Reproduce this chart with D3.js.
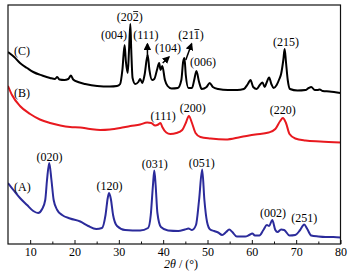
<!DOCTYPE html>
<html><head><meta charset="utf-8">
<script src="https://cdn.jsdelivr.net/npm/d3@7"></script>
<style>
html,body{margin:0;padding:0;background:#fff;}
svg{display:block;}
text{font-family:"Liberation Serif","Times New Roman",serif;font-size:12px;fill:#000;}
</style></head>
<body>
<svg id="chart" width="351" height="275"></svg>
<script>
// ---- Data (2θ in degrees, intensity in arbitrary units incl. vertical offset) ----
const curveA_twoTheta = [5.0,6.4,7.7,9.3,10.7,11.8,12.7,13.4,13.8,14.3,14.8,15.3,16.1,17.2,19.0,21.3,23.1,24.9,26.2,27.0,27.5,27.8,28.2,28.7,29.6,31.4,34.8,36.6,37.2,37.7,38.0,38.3,38.7,39.5,41.1,43.4,44.9,45.7,46.5,47.4,48.1,48.8,49.3,49.9,50.6,51.5,52.4,53.3,54.2,54.9,55.6,56.6,58.5,59.4,60.1,60.7,61.7,62.6,63.4,63.9,64.6,65.3,65.8,66.6,67.3,68.5,69.8,70.9,71.8,72.5,73.4,75.0,76.6,78.4,80.0];
const curveA_intensity = [61,53,46,39,33,31,35,44,64,81,64,44,34,29,25.5,22.5,18,15,16,29,46,51,45,29,18,14,13.5,16,29,59,73.5,59,31,17,13.5,13,14.5,15.5,14,19,44,74.5,44,22,14.5,13,11.5,9,12,14.5,12,7.5,7.5,9,10.5,8.5,8.5,14,19,18,24,14,12,14.5,14,8.5,9,14,19.5,15,8.5,7.5,7,7,6.5];

const curveB_twoTheta = [5.0,5.9,7.7,10.0,12.2,14.5,16.8,19.0,21.3,23.5,25.8,28.0,30.3,32.6,34.8,36.4,37.3,38.2,38.9,39.4,39.8,40.7,41.6,43.0,44.3,45.1,45.8,46.5,47.3,48.4,50.7,54.1,57.5,60.8,63.8,65.3,66.4,67.0,67.7,68.5,69.8,72.1,75.4,80.0];
const curveB_intensity = [158,149,138,130,124.5,121,118.5,117,116.5,115,114,114.5,116,118,119.5,121.5,121,118.5,119.5,121,117,111.5,110,111,114,121,128,121,111,107,105.5,104.5,107,109.5,111.5,115,123,126,121,110,105.5,103.5,102.5,101.5];

const curveC_twoTheta = [5.0,6.4,7.7,9.3,10.7,12.7,14.5,15.6,16.1,16.6,17.7,18.6,19.2,19.7,20.8,22.4,25.1,28.0,29.6,30.3,30.8,31.3,31.6,32.0,32.3,32.6,32.8,33.1,33.7,34.4,34.8,35.3,35.8,36.5,36.9,37.5,38.0,38.6,39.1,39.4,39.8,40.4,41.0,41.9,43.3,44.1,44.5,44.8,45.1,45.7,46.5,47.0,47.5,48.1,48.7,49.8,50.5,51.2,52.4,54.6,56.7,58.2,59.1,59.7,60.3,61.1,61.8,62.4,62.9,63.3,63.9,64.4,64.9,65.6,66.2,66.6,67.1,67.4,67.7,68.1,68.6,70.3,72.1,72.8,73.4,74.2,74.8,75.3,76.0,77.5,80.0];
const curveC_intensity = [192,187,181,176,172,168.5,166,165,167,164.5,164,165,168.5,164.5,162,160,158,157.5,158,160,174,199,182,171,194,220,194,166,160,162,165,161,169,189,174,164,165,174,181,174,178,164,158,155.5,156,164,182,186,169,156,156,164,173,162,155,157,161,157,155,154,154,155,160,164,157,155,159,161.5,157,161,166.5,160,156,159,165,170,184,195,182,164,155,153.5,154,156,157,154,154,154.5,153,152.5,151];

const xTicksMajor = [10,20,30,40,50,60,70,80];
const xTicksMinor = [15,25,35,45,55,65,75];

const seriesLabels = ["(A)","(B)","(C)"];
const seriesLabelI = [53,147,189];
// peak labels: [text, 2θ (center), intensity (baseline)]
const peakLabelText = ["(020)","(120)","(031)","(051)","(002)","(251)","(111)","(200)","(220)","(004)","(202)","(111)","(104)","(211)","(006)","(215)"];
const peakLabel2T   = [14.36,27.9,38.1,48.7,64.8,71.8,40.0,46.7,67.0,28.9,32.45,36.1,41.1,46.3,49.0,67.7];
const peakLabelI    = [83,54,76,77,27,22,124,132,130,205,223,205,192,205,178,198];
const overlineChar  = [-1,-1,-1,-1,-1,-1,-1,-1,-1,-1,3,-1,-1,3,-1,-1]; // index of char carrying a bar
// arrows: from (2θ,I) to (2θ,I)
const arrowFrom2T = [36.45,39.9,45.1];
const arrowFromI  = [188,181,184];
const arrowTo2T   = [36.45,41.3,46.4];
const arrowToI    = [200,187,200];

// ---- Chart ----
const svg = d3.select("#chart");
const x = d3.scaleLinear().domain([5,80]).range([8,340.5]);
const y = d3.scaleLinear().domain([0,239]).range([244,5]);

const line = d3.line().x(d=>x(d[0])).y(d=>y(d[1])).curve(d3.curveMonotoneX);

const series = [
  {t:curveA_twoTheta, v:curveA_intensity, color:"#2b2b9b"},
  {t:curveB_twoTheta, v:curveB_intensity, color:"#e8191f"},
  {t:curveC_twoTheta, v:curveC_intensity, color:"#000000"}
];
const plot = svg.append("g");
plot.append("clipPath").attr("id","clip").append("rect")
  .attr("x",x(5)).attr("y",y(239)).attr("width",x(80)-x(5)).attr("height",y(0)-y(239));
series.forEach(s=>{
  plot.append("path").datum(s.t.map((t,i)=>[t,s.v[i]]))
    .attr("d",line).attr("fill","none").attr("stroke",s.color)
    .attr("stroke-width",2).attr("stroke-linejoin","round").attr("clip-path","url(#clip)");
});

// frame
svg.append("rect").attr("x",x(5)).attr("y",y(239)).attr("width",x(80)-x(5)).attr("height",y(0)-y(239))
  .attr("fill","none").attr("stroke","#111").attr("stroke-width",1.2);

// axes
const axMaj = svg.append("g").attr("transform",`translate(0,${y(0)})`)
  .call(d3.axisBottom(x).tickValues(xTicksMajor).tickSize(-4).tickPadding(3.5).tickFormat(d3.format("d")));
const axMin = svg.append("g").attr("transform",`translate(0,${y(0)})`)
  .call(d3.axisBottom(x).tickValues(xTicksMinor).tickSize(-2.5).tickFormat(""));
[axMaj,axMin].forEach(a=>{a.select(".domain").remove(); a.selectAll("line").attr("stroke","#111").attr("stroke-width",1);});
axMaj.selectAll("text").attr("font-family",null).attr("font-size",null).style("font-size","12px").attr("fill","#000");

// axis title
const title = svg.append("text").attr("x",181).attr("y",268).attr("text-anchor","middle");
title.append("tspan").style("font-style","italic").text("2θ");
title.append("tspan").text(" / (°)");

// series labels
seriesLabels.forEach((s,i)=>{
  svg.append("text").attr("x",x(6.35)).attr("y",y(seriesLabelI[i])).text(s);
});

// peak labels
peakLabelText.forEach((s,i)=>{
  const t = svg.append("text").attr("x",x(peakLabel2T[i])).attr("y",y(peakLabelI[i]))
    .attr("text-anchor","middle").text(s);
  if(overlineChar[i]>=0){
    const n = t.node();
    const a = n.getStartPositionOfChar(overlineChar[i]);
    const b = n.getEndPositionOfChar(overlineChar[i]);
    svg.append("line").attr("x1",a.x+0.5).attr("x2",b.x-0.5)
      .attr("y1",y(peakLabelI[i])-9.5).attr("y2",y(peakLabelI[i])-9.5)
      .attr("stroke","#111").attr("stroke-width",0.9);
  }
});

// arrows
svg.append("defs").append("marker").attr("id","ah").attr("viewBox","0 0 10 10")
  .attr("refX",8).attr("refY",5).attr("markerWidth",5).attr("markerHeight",5).attr("orient","auto")
  .append("path").attr("d","M0,0 L10,5 L0,10 z").attr("fill","#000");
arrowFrom2T.forEach((t,i)=>{
  svg.append("line").attr("x1",x(t)).attr("y1",y(arrowFromI[i]))
    .attr("x2",x(arrowTo2T[i])).attr("y2",y(arrowToI[i]))
    .attr("stroke","#000").attr("stroke-width",1.5).attr("marker-end","url(#ah)");
});
</script>
</body></html>
